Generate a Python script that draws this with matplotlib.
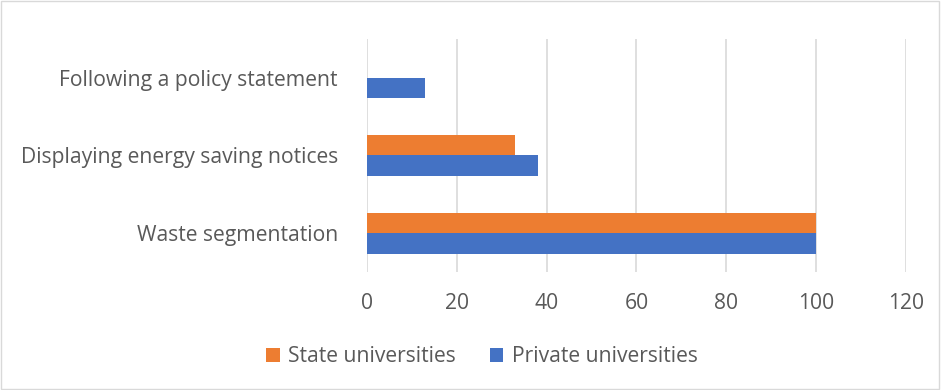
import numpy as np
import matplotlib.pyplot as plt
from matplotlib.patches import Rectangle

categories = ["Waste segmentation", "Displaying energy saving notices", "Following a policy statement"]
state_vals = [100, 33, 0]
private_vals = [100, 38, 13]
xticks = [0, 20, 40, 60, 80, 100, 120]

plt.rcParams['font.family'] = ['Open Sans', 'DejaVu Sans']
txt = "#595959"
fs = 15.2

fig = plt.figure(figsize=(9.41, 3.90), dpi=100)
ax = fig.add_axes([0.390, 0.3026, 0.5728, 0.5974])

y = np.arange(len(categories))
h = 0.265
ax.barh(y - h / 2, private_vals, height=h, color="#4472C4", label="Private universities", zorder=3)
ax.barh(y + h / 2, state_vals, height=h, color="#ED7D31", label="State universities", zorder=3)

ax.set_xlim(0, 120)
ax.set_ylim(-0.5, 2.5)
ax.set_xticks(xticks)
ax.set_yticks(y)
ax.set_yticklabels(categories)
ax.tick_params(axis="both", length=0, labelsize=fs, colors=txt)
ax.tick_params(axis="y", pad=21)
ax.tick_params(axis="x", pad=15)
ax.xaxis.grid(True, color="#d9d9d9", linewidth=1.2, zorder=0)
for s in ax.spines.values():
    s.set_visible(False)

handles, labels = ax.get_legend_handles_labels()
fig.legend(handles[::-1], labels[::-1], loc="center", bbox_to_anchor=(0.512, 0.085), ncol=2,
           frameon=False, fontsize=fs, labelcolor=txt, handlelength=0.65, handleheight=0.65,
           handletextpad=0.4, columnspacing=1.6)

fig.patches.append(Rectangle((0.001, 0.002), 0.997, 0.995, transform=fig.transFigure,
                             fill=False, edgecolor="#d9d9d9", linewidth=1))

fig.savefig("out.png", dpi=100)
